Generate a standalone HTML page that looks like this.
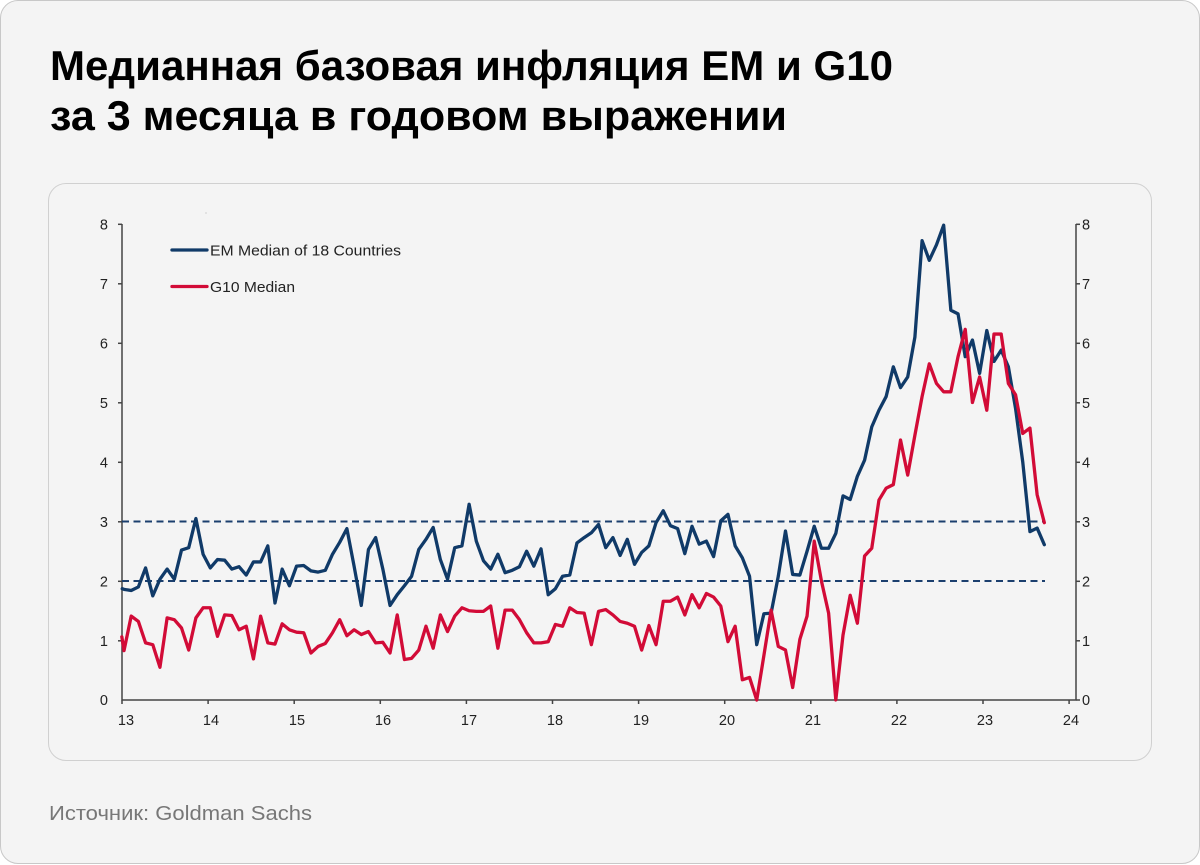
<!DOCTYPE html>
<html>
<head>
<meta charset="utf-8">
<style>
  html,body{margin:0;padding:0;background:#ffffff;}
  body{width:1200px;height:865px;position:relative;overflow:hidden;font-family:"Liberation Sans",Arial,sans-serif;}
  .outer{position:absolute;left:0;top:0;width:1200px;height:864px;box-sizing:border-box;border:1px solid #c8c8c8;border-radius:18px;background:#f4f4f4;}
  .inner{position:absolute;left:48px;top:183px;width:1104px;height:578px;box-sizing:border-box;border:1px solid #d0d0d0;border-radius:18px;background:#f4f4f4;}
  svg{position:absolute;left:0;top:0;}
</style>
</head>
<body>
<div class="outer"></div>
<div class="inner"></div>
<svg width="1200" height="865" viewBox="0 0 1200 865" xmlns="http://www.w3.org/2000/svg">
  <!-- Title -->
  <text x="50" y="80" font-family="Liberation Sans, Arial, sans-serif" font-weight="bold" font-size="42" fill="#000" textLength="843" lengthAdjust="spacingAndGlyphs">Медианная базовая инфляция EM и G10</text>
  <text x="50" y="130" font-family="Liberation Sans, Arial, sans-serif" font-weight="bold" font-size="42" fill="#000" textLength="737" lengthAdjust="spacingAndGlyphs">за 3 месяца в годовом выражении</text>

  <!-- Source -->
  <text x="49" y="820" font-family="Liberation Sans, Arial, sans-serif" font-size="20" fill="#777" textLength="263" lengthAdjust="spacingAndGlyphs">Источник: Goldman Sachs</text>

  <rect x="205.5" y="212.5" width="1" height="1" fill="#aaa"/>

  <!-- Axes -->
  <g stroke="#444" stroke-width="1.5" fill="none">
    <line x1="122" y1="224" x2="122" y2="700.5"/>
    <line x1="1076" y1="224" x2="1076" y2="700.5"/>
    <line x1="121.5" y1="700" x2="1076.5" y2="700"/>
    <line x1="118" y1="224.3" x2="122" y2="224.3"/>
    <line x1="118" y1="283.8" x2="122" y2="283.8"/>
    <line x1="118" y1="343.3" x2="122" y2="343.3"/>
    <line x1="118" y1="402.8" x2="122" y2="402.8"/>
    <line x1="118" y1="462.3" x2="122" y2="462.3"/>
    <line x1="118" y1="521.8" x2="122" y2="521.8"/>
    <line x1="118" y1="581.3" x2="122" y2="581.3"/>
    <line x1="118" y1="640.8" x2="122" y2="640.8"/>
    <line x1="1076" y1="224.3" x2="1080" y2="224.3"/>
    <line x1="1076" y1="283.8" x2="1080" y2="283.8"/>
    <line x1="1076" y1="343.3" x2="1080" y2="343.3"/>
    <line x1="1076" y1="402.8" x2="1080" y2="402.8"/>
    <line x1="1076" y1="462.3" x2="1080" y2="462.3"/>
    <line x1="1076" y1="521.8" x2="1080" y2="521.8"/>
    <line x1="1076" y1="581.3" x2="1080" y2="581.3"/>
    <line x1="1076" y1="640.8" x2="1080" y2="640.8"/>
    <line x1="1076" y1="700" x2="1080" y2="700"/>
    <line x1="122" y1="700" x2="122" y2="704"/>
    <line x1="208.1" y1="700" x2="208.1" y2="704"/>
    <line x1="294.2" y1="700" x2="294.2" y2="704"/>
    <line x1="380.3" y1="700" x2="380.3" y2="704"/>
    <line x1="466.4" y1="700" x2="466.4" y2="704"/>
    <line x1="552.5" y1="700" x2="552.5" y2="704"/>
    <line x1="638.6" y1="700" x2="638.6" y2="704"/>
    <line x1="724.7" y1="700" x2="724.7" y2="704"/>
    <line x1="810.8" y1="700" x2="810.8" y2="704"/>
    <line x1="896.9" y1="700" x2="896.9" y2="704"/>
    <line x1="983" y1="700" x2="983" y2="704"/>
    <line x1="1069.1" y1="700" x2="1069.1" y2="704"/>
  </g>

  <!-- Tick labels -->
  <g font-family="Liberation Sans, Arial, sans-serif" font-size="14.5" fill="#222">
    <g text-anchor="end">
      <text x="108" y="229.5">8</text>
      <text x="108" y="289">7</text>
      <text x="108" y="348.5">6</text>
      <text x="108" y="408">5</text>
      <text x="108" y="467.5">4</text>
      <text x="108" y="527">3</text>
      <text x="108" y="586.5">2</text>
      <text x="108" y="646">1</text>
      <text x="108" y="705.2">0</text>
    </g>
    <g text-anchor="start">
      <text x="1082" y="229.5">8</text>
      <text x="1082" y="289">7</text>
      <text x="1082" y="348.5">6</text>
      <text x="1082" y="408">5</text>
      <text x="1082" y="467.5">4</text>
      <text x="1082" y="527">3</text>
      <text x="1082" y="586.5">2</text>
      <text x="1082" y="646">1</text>
      <text x="1082" y="705.2">0</text>
    </g>
    <g text-anchor="middle">
      <text x="126" y="725">13</text>
      <text x="211" y="725">14</text>
      <text x="297" y="725">15</text>
      <text x="383" y="725">16</text>
      <text x="469" y="725">17</text>
      <text x="555" y="725">18</text>
      <text x="641" y="725">19</text>
      <text x="727" y="725">20</text>
      <text x="813" y="725">21</text>
      <text x="899" y="725">22</text>
      <text x="985" y="725">23</text>
      <text x="1071" y="725">24</text>
    </g>
  </g>

  <!-- Dashed reference lines -->
  <g stroke="#1b3f6e" stroke-width="2" stroke-dasharray="7,4.5" fill="none">
    <line x1="122" y1="521.5" x2="1045" y2="521.5"/>
    <line x1="122" y1="581" x2="1045" y2="581"/>
  </g>

  <!-- Series -->
  <g transform="translate(124,700) scale(7.19,-59.5)" fill="none" stroke-linejoin="round" stroke-linecap="round">
    <polyline vector-effect="non-scaling-stroke" stroke="#103a68" stroke-width="3.3" points="-0.25,1.87 0,1.86 1,1.84 2,1.9 3,2.22 4,1.75 5,2.03 6,2.2 7,2.03 8,2.52 9,2.56 10,3.05 11,2.45 12,2.22 13,2.36 14,2.35 15,2.2 16,2.24 17,2.1 18,2.32 19,2.32 20,2.59 21,1.63 22,2.2 23,1.92 24,2.25 25,2.26 26,2.17 27,2.15 28,2.18 29,2.45 30,2.65 31,2.88 32,2.25 33,1.59 34,2.53 35,2.73 36,2.2 37,1.59 38,1.77 39,1.92 40,2.08 41,2.53 42,2.7 43,2.9 44,2.36 45,2.03 46,2.56 47,2.59 48,3.29 49,2.67 50,2.34 51,2.2 52,2.45 53,2.14 54,2.18 55,2.24 56,2.5 57,2.25 58,2.54 59,1.77 60,1.87 61,2.08 62,2.1 63,2.64 64,2.73 65,2.81 66,2.95 67,2.56 68,2.73 69,2.43 70,2.7 71,2.28 72,2.48 73,2.59 74,2.98 75,3.18 76,2.93 77,2.88 78,2.46 79,2.92 80,2.62 81,2.67 82,2.41 83,3.01 84,3.12 85,2.59 86,2.39 87,2.08 88,0.93 89,1.45 90,1.46 91,2.08 92,2.84 93,2.11 94,2.1 95,2.5 96,2.92 97,2.55 98,2.55 99,2.8 100,3.43 101,3.37 102,3.76 103,4.03 104,4.59 105,4.87 106,5.1 107,5.6 108,5.25 109,5.43 110,6.1 111,7.72 112,7.39 113,7.65 114,7.98 115,6.55 116,6.49 117,5.77 118,6.05 119,5.49 120,6.21 121,5.69 122,5.88 123,5.6 124,4.9 125,4.0 126,2.83 127,2.89 128,2.61"/>
    <polyline vector-effect="non-scaling-stroke" stroke="#d20b37" stroke-width="3.3" points="-0.3,1.06 0,0.83 1,1.41 2,1.32 3,0.96 4,0.93 5,0.55 6,1.38 7,1.35 8,1.21 9,0.84 10,1.38 11,1.55 12,1.55 13,1.07 14,1.43 15,1.42 16,1.18 17,1.24 18,0.69 19,1.41 20,0.96 21,0.94 22,1.28 23,1.18 24,1.14 25,1.13 26,0.79 27,0.9 28,0.95 29,1.13 30,1.35 31,1.08 32,1.18 33,1.1 34,1.15 35,0.96 36,0.97 37,0.79 38,1.43 39,0.68 40,0.7 41,0.84 42,1.24 43,0.87 44,1.43 45,1.15 46,1.41 47,1.55 48,1.5 49,1.49 50,1.49 51,1.58 52,0.87 53,1.51 54,1.51 55,1.35 56,1.13 57,0.96 58,0.96 59,0.98 60,1.27 61,1.24 62,1.55 63,1.47 64,1.46 65,0.93 66,1.49 67,1.52 68,1.43 69,1.32 70,1.29 71,1.24 72,0.84 73,1.25 74,0.93 75,1.66 76,1.66 77,1.73 78,1.43 79,1.77 80,1.55 81,1.79 82,1.73 83,1.58 84,0.98 85,1.24 86,0.34 87,0.38 88,0 89,0.75 90,1.51 91,0.9 92,0.84 93,0.21 94,1.02 95,1.41 96,2.67 97,2.0 98,1.46 99,0 100,1.09 101,1.76 102,1.29 103,2.42 104,2.55 105,3.36 106,3.56 107,3.62 108,4.37 109,3.78 110,4.45 111,5.1 112,5.65 113,5.32 114,5.18 115,5.18 116,5.77 117,6.23 118,5.0 119,5.43 120,4.87 121,6.15 122,6.15 123,5.32 124,5.13 125,4.48 126,4.57 127,3.45 128,2.98"/>
  </g>

  <!-- Legend -->
  <line x1="172" y1="250" x2="207" y2="250" stroke="#103a68" stroke-width="3.3" stroke-linecap="round"/>
  <text x="210" y="255.5" font-family="Liberation Sans, Arial, sans-serif" font-size="15" fill="#222" textLength="191" lengthAdjust="spacingAndGlyphs">EM Median of 18 Countries</text>
  <line x1="172" y1="286.5" x2="207" y2="286.5" stroke="#d20b37" stroke-width="3.3" stroke-linecap="round"/>
  <text x="210" y="292" font-family="Liberation Sans, Arial, sans-serif" font-size="15" fill="#222" textLength="85" lengthAdjust="spacingAndGlyphs">G10 Median</text>
</svg>
</body>
</html>
